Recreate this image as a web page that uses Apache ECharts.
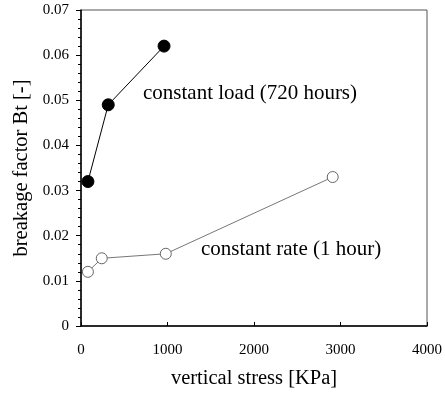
<!DOCTYPE html>
<html>
<head>
<meta charset="utf-8">
<script src="https://cdn.jsdelivr.net/npm/echarts@6/dist/echarts.min.js"></script>
<style>
html,body{margin:0;padding:0;background:#fff;}
#c{width:445px;height:396px;}
</style>
</head>
<body>
<div id="c"></div>
<script>
// Data
const loadStress = [80, 315, 960];
const loadBt = [0.032, 0.049, 0.062];
const rateStress = [80, 240, 980, 2910];
const rateBt = [0.012, 0.015, 0.016, 0.033];
const xTicks = [0, 1000, 2000, 3000, 4000];
const yTicks = [0, 0.01, 0.02, 0.03, 0.04, 0.05, 0.06, 0.07];
const labelLoad = 'constant load (720 hours)';
const labelRate = 'constant rate (1 hour)';
const xTitle = 'vertical stress [KPa]';
const yTitle = 'breakage factor Bt [-]';

const FONT = '"Liberation Serif", "Times New Roman", serif';
const chart = echarts.init(document.getElementById('c'), null, {renderer: 'canvas'});

const pair = (xs, ys) => xs.map((x, i) => [x, ys[i]]);

chart.setOption({
  animation: false,
  backgroundColor: '#fff',
  grid: {left: 81, right: 17, top: 10, bottom: 70, show: true, borderColor: '#555', borderWidth: 1},
  xAxis: {
    type: 'value', min: xTicks[0], max: xTicks[xTicks.length - 1], interval: 1000,
    name: xTitle, nameLocation: 'middle', nameGap: 42,
    nameTextStyle: {fontFamily: FONT, fontSize: 20.5, color: '#000'},
    axisLine: {show: true, onZero: false, lineStyle: {color: '#000', width: 1.5}},
    axisTick: {show: true, inside: true, length: 4, lineStyle: {color: '#000', width: 1}},
    axisLabel: {fontFamily: FONT, fontSize: 15, color: '#000', margin: 17,
      formatter: v => String(v)},
    splitLine: {show: false}
  },
  yAxis: {
    type: 'value', min: yTicks[0], max: yTicks[yTicks.length - 1], interval: 0.01,
    name: yTitle, nameLocation: 'middle', nameGap: 48, nameRotate: 90,
    nameTextStyle: {fontFamily: FONT, fontSize: 20.5, color: '#000'},
    axisLine: {show: true, onZero: false, lineStyle: {color: '#000', width: 1.5}},
    axisTick: {show: true, inside: false, length: 5, lineStyle: {color: '#000', width: 1}},
    minorTick: {show: true, splitNumber: 5, length: 3, lineStyle: {color: '#000', width: 1}},
    axisLabel: {fontFamily: FONT, fontSize: 15, color: '#000', margin: 12,
      formatter: v => v === 0 ? '0' : v.toFixed(2)},
    splitLine: {show: false}
  },
  series: [
    {
      type: 'line', data: pair(loadStress, loadBt),
      symbol: 'circle', symbolSize: 12,
      lineStyle: {color: '#000', width: 1},
      itemStyle: {color: '#000', borderColor: '#000', borderWidth: 1}
    },
    {
      type: 'line', data: pair(rateStress, rateBt),
      symbol: 'circle', symbolSize: 11,
      lineStyle: {color: '#777', width: 1},
      itemStyle: {color: '#fff', borderColor: '#666', borderWidth: 1}
    }
  ],
  graphic: [
    {type: 'text', left: 143, top: 83, style: {text: labelLoad, font: '21px ' + FONT, fill: '#000'}},
    {type: 'text', left: 201, top: 239, style: {text: labelRate, font: '21px ' + FONT, fill: '#000'}}
  ]
});
</script>
</body>
</html>
